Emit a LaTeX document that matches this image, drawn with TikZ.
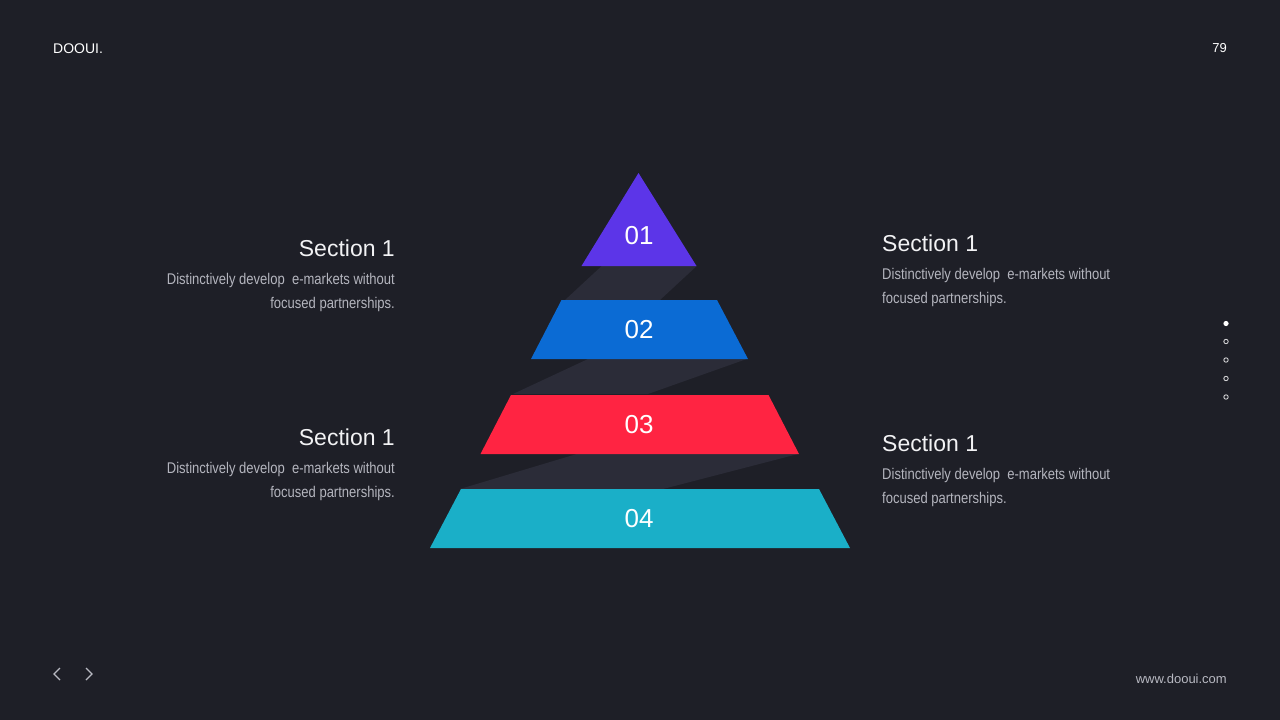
\documentclass[tikz,border=0pt]{standalone}
\usepackage{fontspec}
\setmainfont{Liberation Sans}
\newfontfamily\descfont[FakeStretch=0.84]{Liberation Sans}
\definecolor{bgc}{HTML}{1E1F27}
\definecolor{bandc}{HTML}{2B2C38}
\definecolor{tierA}{HTML}{5C35E8}
\definecolor{tierB}{HTML}{0B6BD4}
\definecolor{tierC}{HTML}{FF2442}
\definecolor{tierD}{HTML}{1AAFC8}
\definecolor{titlec}{HTML}{F2F2F4}
\definecolor{descc}{HTML}{B4B5BE}
\definecolor{footc}{HTML}{B8B9C2}
\tikzset{
  numlbl/.style={text=white, font=\fontsize{26}{30}\selectfont, inner sep=0pt},
  sectitle/.style={text=titlec, font=\fontsize{23}{27}\selectfont, inner sep=0pt},
  secdesc/.style={text=descc, font=\descfont\fontsize{15.5}{24}\selectfont, inner sep=0pt},
  small/.style={font=\fontsize{13}{15}\selectfont, inner sep=0pt},
  ring/.style={draw=white!80!bgc, line width=0.9pt},
  chev/.style={draw=footc, line width=1.1pt}
}
\begin{document}
\begin{tikzpicture}[x=1pt,y=-1pt]
\fill[bgc] (0,0) rectangle (1280,720);
\useasboundingbox (0,0) rectangle (1280,720);
% shadow bands
\fill[bandc] (601.7,266) -- (696.7,266) -- (660,300) -- (565,300) -- cycle;
\fill[bandc] (588,359) -- (746.7,359) -- (648,394) -- (513,394) -- cycle;
\fill[bandc] (576.7,454) -- (798,454) -- (663,489) -- (460,489) -- cycle;
% tiers
\fill[tierA] (638.5,173) -- (696.5,266) -- (581.5,266) -- cycle;
\fill[tierB] (561.5,300) -- (717,300) -- (748,359) -- (531,359) -- cycle;
\fill[tierC] (511,395) -- (768.5,395) -- (799,454) -- (480.5,454) -- cycle;
\fill[tierD] (461,489) -- (819,489) -- (850,548) -- (430,548) -- cycle;
% numbers
\node[numlbl] (n1) at (639,236) {01};
\node[numlbl] (n2) at (639,330) {02};
\node[numlbl] (n3) at (639,425) {03};
\node[numlbl] (n4) at (639,519) {04};
% left texts
\node[sectitle, anchor=base east] (lt1) at (395,256.5) {Section 1};
\node[secdesc, anchor=base east] (ld1a) at (395,284.5) {Distinctively develop\ \ e-markets without};
\node[secdesc, anchor=base east] (ld1b) at (395,308.5) {focused partnerships.};
\node[sectitle, anchor=base east] (lt2) at (395,445.5) {Section 1};
\node[secdesc, anchor=base east] (ld2a) at (395,473.5) {Distinctively develop\ \ e-markets without};
\node[secdesc, anchor=base east] (ld2b) at (395,497.5) {focused partnerships.};
% right texts
\node[sectitle, anchor=base west] (rt1) at (882,251.5) {Section 1};
\node[secdesc, anchor=base west] (rd1a) at (882,279.5) {Distinctively develop\ \ e-markets without};
\node[secdesc, anchor=base west] (rd1b) at (882,303.5) {focused partnerships.};
\node[sectitle, anchor=base west] (rt2) at (882,451.5) {Section 1};
\node[secdesc, anchor=base west] (rd2a) at (882,479.5) {Distinctively develop\ \ e-markets without};
\node[secdesc, anchor=base west] (rd2b) at (882,503.5) {focused partnerships.};
% header / footer
\node[small, text=white, anchor=base west, font=\fontsize{14}{16}\selectfont] (logo) at (53,53) {DOOUI.};
\node[small, text=white, anchor=base east] (pg) at (1227,52.5) {79};
\node[small, text=footc, anchor=base east] (web) at (1227,683) {www.dooui.com};
% nav chevrons
\coordinate (pa) at (60,668); \coordinate (pb) at (54,674); \coordinate (pc) at (60,680);
\coordinate (qa) at (86,668); \coordinate (qb) at (92,674); \coordinate (qc) at (86,680);
\draw[chev, line join=miter] (pa) -- (pb) -- (pc);
\draw[chev, line join=miter] (qa) -- (qb) -- (qc);
% page dots
\fill[white] (1226,323.5) circle (2.6);
\draw[ring] (1226,341.5) circle (2.2);
\draw[ring] (1226,360) circle (2.2);
\draw[ring] (1226,378.5) circle (2.2);
\draw[ring] (1226,397) circle (2.2);
\end{tikzpicture}
\end{document}
